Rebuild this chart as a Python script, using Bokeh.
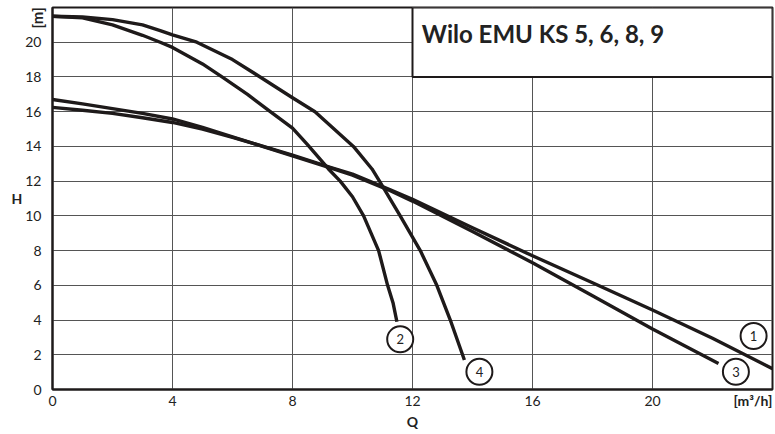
from bokeh.plotting import figure
from bokeh.models import Range1d, FixedTicker, Label, ColumnDataSource, LinearAxis
from bokeh.embed import file_html
from bokeh.resources import INLINE

# ---- data ----
c1_q = [0, 1, 2, 3, 4, 5, 6, 7, 8, 9.26, 10, 11.26, 12, 14, 16, 18, 20, 22, 24]
c1_h = [16.25, 16.08, 15.9, 15.65, 15.38, 15.0, 14.52, 14.02, 13.5, 12.8, 12.4, 11.5, 10.95, 9.32, 7.7, 6.15, 4.58, 2.95, 1.2]

c2_q = [0, 1, 2, 3, 3.59, 4, 5, 5.65, 6.5, 7.26, 8, 8.5, 9.2, 9.59, 10.0, 10.37, 10.87, 11.17, 11.35, 11.48]
c2_h = [21.5, 21.4, 21.0, 20.4, 20.0, 19.7, 18.75, 18.0, 17.0, 16.0, 15.05, 14.1, 12.7, 12.0, 11.1, 10.0, 8.0, 6.0, 5.0, 3.9]

c3_q = [0, 1, 2, 3, 4, 5, 6, 7, 8, 9.26, 10, 11.26, 12, 14, 16, 18, 20, 22.2]
c3_h = [16.7, 16.45, 16.18, 15.9, 15.58, 15.1, 14.55, 14.0, 13.45, 12.77, 12.35, 11.45, 10.85, 9.1, 7.3, 5.4, 3.49, 1.5]

c4_q = [0, 1, 2, 3, 3.59, 4, 4.81, 6, 6.92, 8, 8.75, 10.03, 10.65, 10.9, 11.59, 12.26, 12.81, 13.26, 13.73]
c4_h = [21.5, 21.45, 21.3, 21.0, 20.67, 20.42, 20.0, 19.0, 18.0, 16.8, 16.0, 14.0, 12.7, 12.0, 10.0, 8.0, 6.0, 4.0, 1.7]

label_text = ["1", "2", "3", "4"]
label_q = [23.37, 11.59, 22.78, 14.23]
label_h = [3.08, 2.89, 1.02, 1.02]

x_ticks = [0, 4, 8, 12, 16, 20]
y_ticks = [0, 2, 4, 6, 8, 10, 12, 14, 16, 18, 20]
x_unit, x_unit_at = "[m³/h]", 23.35
y_unit, y_unit_at = "[m]", 21.4
title_text = "Wilo EMU KS 5, 6, 8, 9"

FONT = "Lato"
INK = "#1e1a1a"
TXT = "#222222"

p = figure(frame_width=720, frame_height=382,
           min_border_left=52, min_border_right=3, min_border_top=7, min_border_bottom=45,
           x_range=Range1d(0, 24), y_range=Range1d(0, 22),
           output_backend="svg", toolbar_location=None)
p.background_fill_color = "white"
p.border_fill_color = "white"
p.outline_line_color = INK
p.outline_line_width = 2

# grid
p.xgrid.ticker = FixedTicker(ticks=[0, 4, 8, 12, 16, 20, 24])
p.ygrid.ticker = FixedTicker(ticks=[0, 2, 4, 6, 8, 10, 12, 14, 16, 18, 20, 22])
for g in (p.xgrid, p.ygrid):
    g.grid_line_color = "#555555"
    g.grid_line_width = 1


def style(ax):
    ax.axis_line_color = INK
    ax.axis_line_width = 2
    ax.major_tick_line_color = None
    ax.minor_tick_line_color = None
    ax.major_tick_out = 0
    ax.major_tick_in = 0
    ax.major_label_text_font = FONT
    ax.major_label_text_font_size = "14px"
    ax.major_label_text_color = TXT
    ax.axis_label_text_font = FONT
    ax.axis_label_text_font_style = "bold"
    ax.axis_label_text_font_size = "14px"
    ax.axis_label_text_color = TXT


# inner axes: units
xa = p.xaxis[0]
ya = p.yaxis[0]
style(xa)
style(ya)
xa.ticker = FixedTicker(ticks=[x_unit_at])
xa.major_label_overrides = {x_unit_at: x_unit}
xa.major_label_text_font_style = "bold"
xa.major_label_standoff = 2
ya.ticker = FixedTicker(ticks=[y_unit_at])
ya.major_label_overrides = {y_unit_at: y_unit}
ya.major_label_text_font_style = "bold"
ya.major_label_text_font_size = "15px"
ya.major_label_orientation = "vertical"
ya.major_label_standoff = 7

# outer axes: numbers + names
xb = LinearAxis(ticker=FixedTicker(ticks=x_ticks), axis_label="Q")
yb = LinearAxis(ticker=FixedTicker(ticks=y_ticks), axis_label="H")
style(xb)
style(yb)
xb.axis_line_color = None
yb.axis_line_color = None
xb.major_label_standoff = -16
xb.axis_label_standoff = 4
yb.major_label_standoff = -17
yb.axis_label_orientation = "horizontal"
yb.axis_label_standoff = 0
p.add_layout(xb, "below")
p.add_layout(yb, "left")

# title box
p.quad(left=[12], right=[24], bottom=[18], top=[22], fill_color="white",
       line_color=INK, line_width=2)
p.add_layout(Label(x=12.31, y=20.48, text=title_text, text_font=FONT,
                   text_font_style="bold", text_font_size="24px",
                   text_color=TXT, text_baseline="alphabetic"))

# curves
for q, h in ((c1_q, c1_h), (c3_q, c3_h), (c2_q, c2_h), (c4_q, c4_h)):
    p.line(q, h, line_color=INK, line_width=3.4, line_join="round", line_cap="butt")

# numbered circles
src = ColumnDataSource(dict(x=label_q, y=label_h, t=label_text))
p.scatter("x", "y", source=src, size=26, marker="circle", fill_color="white",
          line_color=INK, line_width=2)
p.text("x", "y", text="t", source=src, text_align="center", text_baseline="middle",
       text_font={"value": FONT}, text_font_size="13px", text_color=TXT)

open("out.html", "w").write(file_html(p, INLINE))
